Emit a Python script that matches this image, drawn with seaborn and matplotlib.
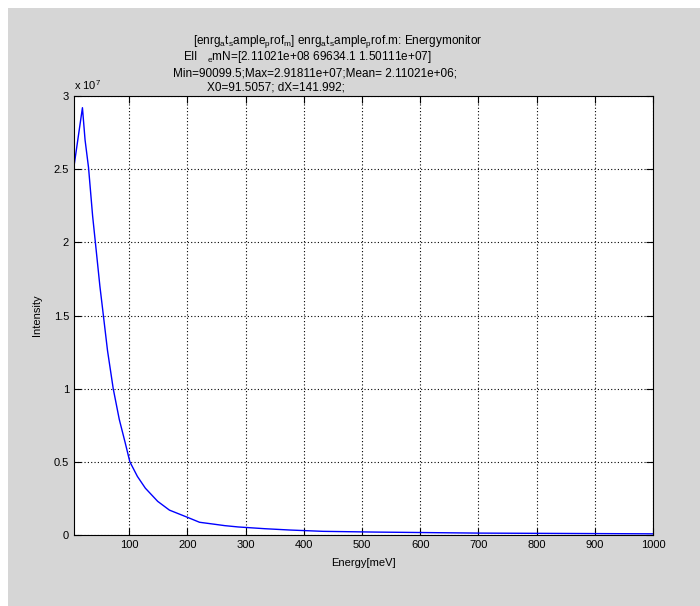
import matplotlib
matplotlib.use("Agg")
import matplotlib.pyplot as plt
from matplotlib.patches import Rectangle
from matplotlib.ticker import FuncFormatter
import seaborn as sns
import pandas as pd

# Data
energy = [5, 19.5, 24, 30, 37, 42.5, 49.5, 54, 62.6, 72.4, 82.8, 93, 101, 114,
          127.6, 148.8, 169, 200.5, 220.7, 243.6, 264, 287, 333, 376, 433, 522,
          700, 1000]
intensity_e7 = [2.52, 2.92, 2.70, 2.51, 2.18, 1.97, 1.70, 1.55, 1.26, 1.00, 0.79,
                0.63, 0.50, 0.40, 0.32, 0.23, 0.17, 0.12, 0.087, 0.075, 0.064,
                0.055, 0.043, 0.034, 0.025, 0.020, 0.013, 0.008]
intensity = [v * 1e7 for v in intensity_e7]
xticks = [100, 200, 300, 400, 500, 600, 700, 800, 900, 1000]
yticks = [0, 0.5e7, 1e7, 1.5e7, 2e7, 2.5e7, 3e7]

title_lines = [
    r"[enrg$_\mathrm{a}$t$_\mathrm{s}$ample$_\mathrm{p}$rof$_\mathrm{m}$] enrg$_\mathrm{a}$t$_\mathrm{s}$ample$_\mathrm{p}$rof.m: Energymonitor",
    r"EII   $_\mathrm{e}$mN=[2.11021e+08 69634.1 1.50111e+07]",
    "Min=90099.5;Max=2.91811e+07;Mean= 2.11021e+06;",
    "X0=91.5057; dX=141.992;",
]

plt.rcParams['font.family'] = ['Liberation Sans', 'DejaVu Sans']
plt.rcParams['mathtext.fontset'] = 'custom'
plt.rcParams['mathtext.rm'] = 'Liberation Sans'

W, H = 700, 606
fig = plt.figure(figsize=(W / 100, H / 100), dpi=100, facecolor='white')
fig.patches.append(Rectangle((8 / W, 0), 1, 1 - 8 / H, transform=fig.transFigure,
                             facecolor='#d6d6d6', edgecolor='none', zorder=-10))

left, right, top, bottom = 74, 653, 96, 535
ax = fig.add_axes([left / W, (H - bottom) / H, (right - left) / W, (bottom - top) / H])
ax.set_facecolor('white')

df = pd.DataFrame({"Energy": energy, "Intensity": intensity})
sns.lineplot(data=df, x="Energy", y="Intensity", ax=ax, color='#0000ff', linewidth=1.0)

ax.set_xlim(5, 1000)
ax.set_ylim(0, 3e7)
ax.set_xticks(xticks)
ax.set_yticks(yticks)
ax.yaxis.set_major_formatter(FuncFormatter(lambda v, p: f"{v / 1e7:g}"))
ax.text(0.0, 1.008, r"x 10$^{7}$", transform=ax.transAxes, ha='left', va='bottom',
        fontsize=8)

ax.grid(True, linestyle=(0, (1, 2)), color='black', linewidth=0.8)
ax.tick_params(direction='in', length=5, width=0.8, labelsize=8, top=True, right=True,
               colors='black')
for s in ax.spines.values():
    s.set_color('black')
    s.set_linewidth(0.8)

ax.set_xlabel("Energy[meV]", fontsize=8, labelpad=6)
ax.set_ylabel("Intensity", fontsize=8)
ax.yaxis.set_label_coords((42 - left) / (right - left), 0.5)

# title lines: (text, left x px, center y px)
pos = [(193, 42), (183, 57), (173, 73), (207, 87)]
for t, (x, y) in zip(title_lines, pos):
    fig.text(x / W, 1 - y / H, t, ha='left', va='center', fontsize=8.5)

fig.savefig("out.png", dpi=100, facecolor=fig.get_facecolor())
